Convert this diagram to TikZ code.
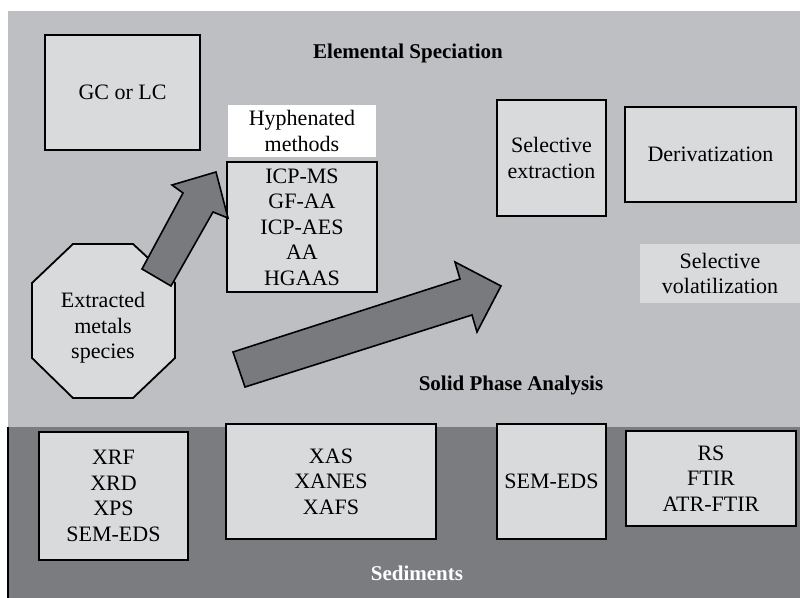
\documentclass[tikz,border=0pt]{standalone}
\usepackage{fontspec}
\setmainfont{Liberation Serif}
\definecolor{upperbg}{HTML}{BEBFC3}
\definecolor{lowerbg}{HTML}{7B7C80}
\definecolor{boxgray}{HTML}{D9DADC}
\definecolor{arrowgray}{HTML}{797A7E}
\tikzset{
  method/.style={draw=black, line width=0.9pt, fill=boxgray, inner sep=0pt,
    align=center, font=\fontsize{11}{12.75}\selectfont},
  bare/.style={method, draw=none},
  heading/.style={font=\fontsize{10.5}{12}\selectfont\bfseries},
  bigarrow/.style={draw=black, line width=0.8pt, fill=arrowgray, line join=miter}
}
\begin{document}
\begin{tikzpicture}[x=0.5pt,y=-0.5pt]
\useasboundingbox (0,0) rectangle (800,598);
\fill[white] (0,0) rectangle (800,598);
\fill[upperbg] (8,11) rectangle (800,427);
\fill[lowerbg] (8,427) rectangle (800,598);
\draw[line width=1.2pt] (8,427)--(8,598);

\node[heading] (spec) at (408,53) {Elemental Speciation};
\node[heading] (solid) at (511,385) {Solid Phase Analysis};
\node[heading, text=white] (sed) at (417,573) {Sediments};

\node[method, minimum width=77.5pt, minimum height=57.5pt] (gclc) at (122.5,92.5) {GC or LC};
\node[bare, fill=white, minimum width=74pt, minimum height=26pt] (hyph) at (302,131) {Hyphenated\\methods};
\node[method, minimum width=75pt, minimum height=65pt] (icp) at (302,227) {ICP-MS\\GF-AA\\ICP-AES\\AA\\HGAAS};
\node[method, minimum width=54.5pt, minimum height=58pt] (selext) at (551.5,158) {Selective\\extraction};
\node[method, minimum width=85.5pt, minimum height=47.5pt] (deriv) at (710.5,154.5) {Derivatization};
\node[bare, minimum width=80pt, minimum height=29.5pt] (selvol) at (720,273.5) {Selective\\volatilization};

\draw[method] (73,244)--(133,244)--(175,283)--(175,358)--(133,398)--(73,398)
  --(32,358)--(32,283)--cycle;
\node[align=center, font=\fontsize{11}{12.75}\selectfont] (metals) at (103,328)
  {Extracted\\metals\\species};

\draw[bigarrow] (142,269)--(183,193)--(172,185)--(216,172)--(228,218)--(213,212)
  --(171,286)--cycle;
\draw[bigarrow] (233,352)--(460,279)--(455,262)--(501,286)--(477,332)--(472,315)
  --(245,387)--cycle;

\node[method, minimum width=74.5pt, minimum height=64pt] (xrf) at (113.5,496) {XRF\\XRD\\XPS\\SEM-EDS};
\node[method, minimum width=105pt, minimum height=57.5pt] (xas) at (331,481.5) {XAS\\XANES\\XAFS};
\node[method, minimum width=54.5pt, minimum height=57.5pt] (sem) at (551.5,481.5) {SEM-EDS};
\node[method, minimum width=85pt, minimum height=47.5pt] (rs) at (711,478.5) {RS\\FTIR\\ATR-FTIR};
\end{tikzpicture}
\end{document}
